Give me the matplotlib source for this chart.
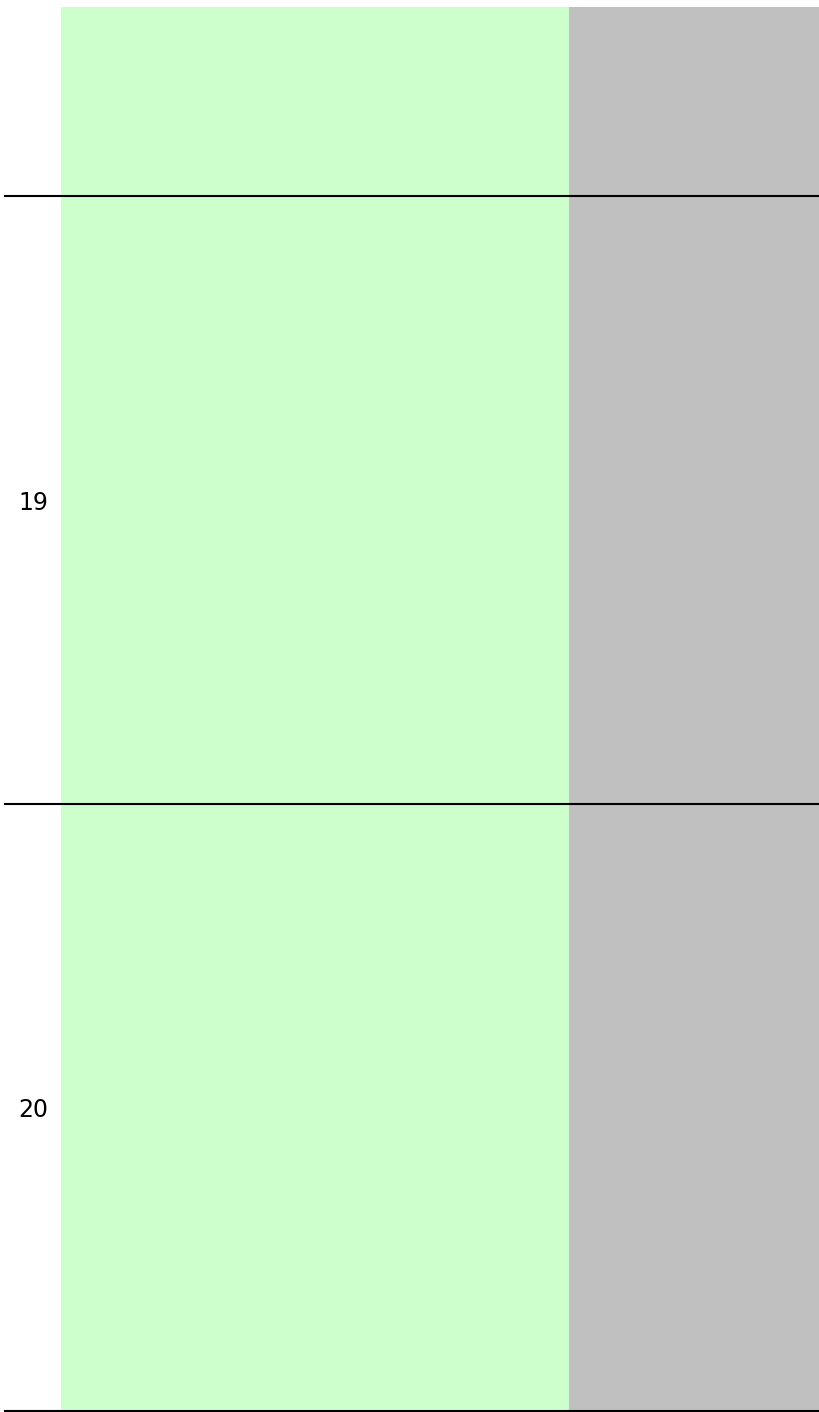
import numpy as np
import matplotlib
matplotlib.use("Agg")
import matplotlib.pyplot as plt

# rows (top to bottom) and the two stacked segments of each bar
rows = [18, 19, 20]
green_part = [66.9, 66.9, 66.9]
grey_part = [33.1, 33.1, 33.1]
row_labels = ["", "19", "20"]

fig = plt.figure(figsize=(8.2, 14.12), dpi=100)
W, H = 820, 1412
ax = fig.add_axes([61 / W, 1 / H, 759 / W, (H - 7 - 1) / H])

y = np.array(rows)
ax.barh(y, green_part, height=1.0, color="#ccffcc", linewidth=0)
ax.barh(y, grey_part, left=green_part, height=1.0, color="#c0c0c0", linewidth=0)

# row separators, running out past the left of the axes
for r in rows:
    ax.axhline(r + 0.5, xmin=-56 / 759, xmax=1, color="black", lw=1.5, clip_on=False)

ax.set_xlim(0, 100)
ax.set_ylim(20.5, 18.188)
ax.set_yticks(rows[1:])
ax.set_yticklabels(row_labels[1:], fontsize=17)
ax.tick_params(axis="y", length=0, pad=9.4)
ax.set_xticks([])
for s in ax.spines.values():
    s.set_visible(False)

fig.savefig("out.png", dpi=100)
